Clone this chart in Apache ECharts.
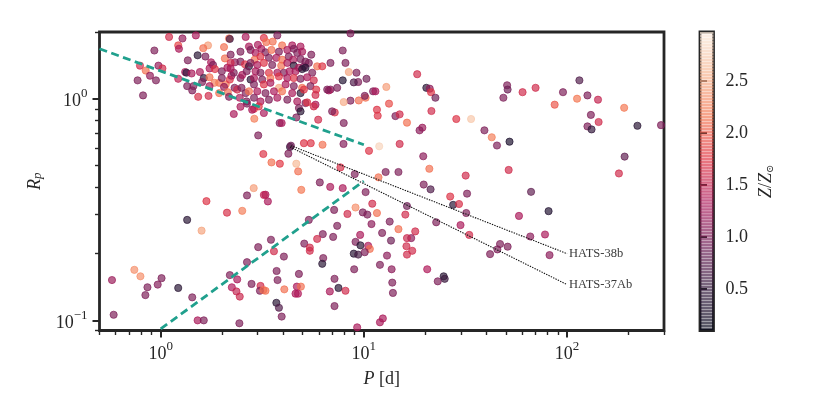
<!DOCTYPE html>
<html>
<head>
<meta charset="utf-8">
<script src="https://cdn.jsdelivr.net/npm/echarts@6/dist/echarts.min.js"></script>
<style>
  html, body { margin: 0; padding: 0; background: #fff; }
  #chart { width: 830px; height: 415px; }
</style>
</head>
<body>
<div id="chart"></div>
<script>
// orbital period [d], radius, metallicity Z/Zsun
const period = [
  18.3, 12.9, 20.3, 21.1, 21.4, 22.5, 13.3, 21.5, 14.3, 15.0,
  16.3, 19.4, 18.8, 11.9, 15.0, 19.6, 12.8, 14.8, 21.0, 31.7,
  28.5, 33.7, 39.2, 42.6, 45.2, 52.1, 51.6, 50.7, 51.0, 48.6,
  60.4, 70.0, 115, 95.5, 86.9, 112, 126, 142, 131, 143,
  126, 132, 191, 222, 290, 192, 180, 19.7, 21.3, 26.6,
  32.2, 27.5, 29.4, 31.9, 22.7, 29.9, 33.0, 66.5, 81.1, 58.0,
  65.9, 77.9, 46.8, 51.0, 45.4, 41.8, 82.0, 20.5, 23.1, 24.7,
  25.0, 4.33, 4.375, 4.25, 5.07, 5.48, 6.26, 7.94, 10.6, 3.51,
  3.86, 4.65, 4.75, 7.67, 9.02, 11.8, 6.07, 6.83, 7.87, 4.92,
  10.2, 3.28, 3.37, 11.0, 9.1, 7.14, 8.3, 9.88, 10.4, 11.6,
  16.3, 16.0, 5.36, 7.39, 10.9, 13.4, 14.8, 17.9, 17.1, 16.3,
  12.3, 6.28, 5.89, 5.09, 7.06, 9.59, 9.1, 9.62, 10.5, 10.7,
  13.6, 16.2, 17.3, 16.3, 3.49, 3.61, 5.42, 5.42, 8.92, 9.38,
  10.1, 13.0, 4.04, 6.31, 6.24, 12.0, 8.96, 13.7, 3.72, 4.79,
  3.76, 7.17, 13.8, 4.68, 4.9, 7.5, 4.06, 6.8, 8.12, 4.61,
  4.74, 13.9, 3.71, 3.82, 7.17, 3.94, 12.4, 12.0, 9.27, 3.28,
  3.02, 3.2, 2.87, 2.66, 3.22, 1.68, 2.12, 2.52, 1.35, 1.59,
  3.02, 2.66, 2.19, 2.38, 2.24, 2.36, 2.45, 2.8, 3.1, 3.08,
  3.2, 0.576, 0.742, 0.795, 0.861, 0.841, 0.967, 1.01, 1.22, 1.43,
  0.587, 1.52, 1.63, 2.44, 1.10, 1.28, 1.49, 1.22, 1.23, 1.71,
  1.62, 0.931, 0.791, 0.844, 0.886, 0.975, 1.02, 0.77, 0.948, 0.819,
  1.22, 1.36, 1.32, 1.52, 1.66, 1.35, 1.43, 1.53, 1.72, 1.94,
  2.09, 2.29, 2.89, 2.88, 7.87, 8.43, 9.2, 9.38, 10.3, 7.87,
  8.92, 6.85, 7.39, 6.72, 8.59, 7.96, 9.44, 10.2, 10.1, 11.1,
  11.4, 11.6, 11.7, 8.12, 7.96, 7.19, 5.96, 4.65, 3.85, 3.94,
  8.59, 3.75, 2.62, 2.17, 2.05, 2.19, 2.47, 2.72, 2.07, 2.21,
  2.32, 1.77, 1.81, 1.74, 1.85, 2.0, 2.13, 2.21, 2.47, 2.6,
  2.72, 1.34, 1.42, 1.56, 1.63, 1.60, 1.74, 1.84, 2.0, 2.19,
  2.23, 2.29, 2.47, 2.52, 2.65, 2.77, 1.45, 1.74, 2.05, 2.14,
  2.31, 2.38, 2.50, 2.62, 2.72, 1.94, 2.17, 2.45, 2.65, 3.22,
  3.31, 3.56, 3.96, 4.44, 4.88, 3.01, 3.13, 2.77, 2.93, 3.28,
  3.51, 3.82, 4.2, 4.52, 4.70, 4.97, 5.51, 2.90, 3.10, 3.41,
  3.71, 3.96, 4.27, 4.49, 4.88, 5.16, 2.77, 2.99, 3.22, 3.54,
  3.92, 4.20, 4.52, 4.79, 5.07, 5.36, 5.89, 6.24, 6.85, 2.93,
  3.10, 3.41, 3.75, 4.04, 4.31, 4.61, 4.97, 5.16, 5.57, 2.88,
  3.16, 3.47, 3.82, 4.20, 4.52, 4.88, 5.26, 5.67, 2.88, 3.22,
  3.47, 3.82, 4.12, 4.52, 4.97, 5.46, 5.83, 6.60, 2.99, 3.28,
  3.61, 3.96, 4.44, 4.88, 5.07, 5.78, 2.88, 3.10, 3.41, 3.75,
  4.20, 4.70, 5.16, 5.78, 4.79, 5.26, 5.67, 3.04, 2.82, 3.22,
  4.88, 6.98, 2.66, 2.47, 2.21
];
const radius = [
  1.29, 1.13, 1.12, 1.11, 1.07, 1.01, 0.95, 0.88, 0.835, 0.85,
  0.78, 0.74, 0.72, 0.61, 0.625, 0.55, 0.467, 0.467, 0.483, 0.45,
  0.81, 0.81, 0.72, 0.67, 0.615, 0.64, 0.477, 1.15, 1.10, 1.01,
  1.07, 1.12, 1.21, 1.07, 0.94, 1.0, 1.035, 0.99, 0.845, 0.785,
  0.75, 0.727, 0.91, 0.755, 0.76, 0.548, 0.46, 0.41, 0.39, 0.362,
  0.373, 0.332, 0.335, 0.305, 0.277, 0.269, 0.243, 0.38, 0.311, 0.296,
  0.239, 0.244, 0.221, 0.215, 0.209, 0.199, 0.197, 0.17, 0.15, 0.158,
  0.154, 0.606, 0.614, 0.565, 0.63, 0.63, 0.62, 0.625, 0.582, 0.516,
  0.509, 0.509, 0.47, 0.49, 0.457, 0.442, 0.419, 0.40, 0.395, 0.388,
  0.379, 0.369, 0.344, 0.336, 0.323, 0.315, 0.302, 0.307, 0.30, 0.305,
  0.328, 0.30, 0.284, 0.267, 0.272, 0.279, 0.258, 0.252, 0.235, 0.235,
  0.248, 0.245, 0.233, 0.222, 0.238, 0.243, 0.226, 0.218, 0.217, 0.21,
  0.229, 0.216, 0.206, 0.198, 0.231, 0.205, 0.213, 0.206, 0.20, 0.198,
  0.203, 0.196, 0.194, 0.191, 0.18, 0.178, 0.17, 0.17, 0.167, 0.162,
  0.152, 0.154, 0.148, 0.142, 0.142, 0.14, 0.138, 0.135, 0.136, 0.132,
  0.132, 0.133, 0.12, 0.114, 0.116, 0.104, 0.102, 0.098, 0.093, 0.136,
  0.683, 0.563, 0.395, 0.366, 0.368, 0.345, 0.306, 0.312, 0.284, 0.254,
  0.214, 0.183, 0.16, 0.153, 0.141, 0.135, 0.128, 0.146, 0.143, 0.136,
  0.137, 0.152, 0.169, 0.158, 0.141, 0.13, 0.145, 0.155, 0.14, 0.127,
  0.106, 0.10, 0.10, 0.097, 1.90, 1.87, 1.93, 1.74, 1.68, 1.74,
  1.69, 1.65, 1.41, 1.34, 1.27, 1.41, 1.37, 1.21, 1.21, 1.035,
  1.23, 1.49, 1.32, 1.57, 1.55, 1.14, 1.09, 1.02, 1.03, 1.18,
  1.16, 0.853, 0.812, 0.90, 1.65, 1.32, 1.31, 1.19, 1.23, 1.21,
  1.185, 1.10, 1.12, 1.09, 0.98, 0.966, 0.982, 1.01, 1.03, 1.08,
  1.08, 0.892, 0.838, 1.45, 0.777, 0.867, 0.804, 0.823, 0.777, 0.777,
  1.97, 1.93, 1.90, 1.87, 1.71, 1.86, 1.63, 1.72, 1.52, 1.58,
  1.46, 1.46, 1.42, 1.37, 1.36, 1.33, 1.38, 1.45, 1.47, 1.43,
  1.40, 1.31, 1.30, 1.32, 1.24, 1.19, 1.25, 1.18, 1.24, 1.22,
  1.27, 1.31, 1.24, 1.28, 1.33, 1.22, 1.14, 1.14, 1.13, 1.07,
  1.12, 1.10, 1.12, 1.06, 1.08, 1.06, 1.02, 1.01, 0.972, 1.88,
  1.80, 1.81, 1.74, 1.74, 1.72, 1.75, 1.68, 1.66, 1.61, 1.62,
  1.66, 1.63, 1.66, 1.68, 1.61, 1.63, 1.58, 1.50, 1.55, 1.53,
  1.53, 1.50, 1.55, 1.50, 1.51, 1.47, 1.45, 1.42, 1.45, 1.42,
  1.41, 1.45, 1.41, 1.38, 1.40, 1.45, 1.40, 1.40, 1.45, 1.33,
  1.31, 1.31, 1.31, 1.31, 1.33, 1.33, 1.36, 1.38, 1.31, 1.24,
  1.22, 1.24, 1.26, 1.24, 1.24, 1.23, 1.25, 1.21, 1.16, 1.16,
  1.18, 1.12, 1.16, 1.14, 1.12, 1.14, 1.10, 1.10, 1.08, 1.06,
  1.08, 1.08, 1.06, 1.06, 1.10, 1.04, 1.01, 0.972, 0.99, 1.01,
  0.99, 0.972, 0.956, 0.94, 0.908, 0.962, 0.923, 0.923, 0.892, 0.862,
  0.877, 0.877, 0.95, 0.92, 1.37
];
const metallicity = [
  1.6, 2.4, 0.4, 1.1, 1.7, 0.9, 1.9, 1.6, 1.0, 1.6,
  2.1, 1.2, 1.1, 2.8, 1.6, 1.1, 1.0, 1.0, 2.1, 1.6,
  1.7, 2.7, 1.0, 2.2, 1.0, 0.3, 1.6, 1.0, 0.9, 1.0,
  1.6, 1.6, 0.7, 1.0, 1.95, 2.15, 1.0, 1.5, 1.0, 1.6,
  1.0, 0.5, 2.15, 0.4, 1.0, 0.8, 1.6, 1.0, 0.7, 1.7,
  1.0, 0.4, 1.65, 1.0, 1.0, 1.3, 1.6, 0.8, 0.35, 1.3,
  1.1, 1.3, 1.0, 1.0, 1.0, 1.0, 1.1, 1.35, 1.0, 0.4,
  0.55, 0.5, 0.9, 1.0, 1.7, 1.7, 2.1, 1.05, 1.7, 2.1,
  1.75, 2.6, 2.1, 1.65, 1.0, 2.1, 1.0, 1.3, 1.3, 2.15,
  1.0, 1.3, 1.3, 1.6, 2.3, 1.0, 1.6, 1.0, 1.0, 2.1,
  0.9, 1.6, 1.0, 1.0, 1.1, 1.0, 2.1, 1.6, 1.1, 1.55,
  1.0, 1.0, 1.6, 1.0, 1.0, 1.3, 1.0, 0.4, 1.3, 2.1,
  0.9, 1.6, 1.6, 1.6, 1.0, 1.6, 1.6, 1.6, 0.4, 0.6,
  1.0, 1.1, 1.0, 1.0, 0.4, 1.0, 1.0, 1.1, 1.0, 1.0,
  1.0, 1.0, 1.0, 1.3, 2.1, 0.4, 2.1, 1.3, 1.6, 1.3,
  1.35, 1.0, 0.4, 0.7, 1.0, 1.0, 1.3, 1.3, 1.3, 2.1,
  1.0, 1.7, 2.4, 1.0, 1.45, 1.7, 1.65, 2.2, 0.4, 2.45,
  1.0, 1.0, 1.0, 1.3, 1.35, 1.5, 1.55, 1.0, 1.6, 1.0,
  2.1, 1.2, 2.3, 2.3, 1.0, 1.0, 1.05, 1.0, 0.4, 1.0,
  1.0, 1.3, 1.0, 1.0, 1.6, 1.15, 1.3, 1.85, 1.3, 2.4,
  2.1, 1.0, 1.6, 2.1, 1.15, 1.15, 1.6, 1.0, 1.0, 1.0,
  1.45, 1.0, 1.3, 0.4, 1.0, 1.0, 1.0, 1.65, 1.6, 2.1,
  2.1, 1.3, 2.2, 1.7, 1.0, 2.45, 1.0, 1.0, 0.9, 0.35,
  0.7, 1.0, 1.0, 1.3, 1.0, 2.5, 2.1, 2.1, 1.0, 1.0,
  1.3, 1.7, 1.7, 1.0, 1.0, 1.65, 1.6, 1.0, 1.0, 1.3,
  1.0, 1.0, 1.3, 2.1, 2.1, 0.6, 1.0, 1.3, 2.1, 1.0,
  1.15, 1.3, 1.0, 1.3, 1.7, 1.0, 1.3, 1.6, 1.0, 1.7,
  0.4, 0.45, 1.3, 1.3, 0.45, 1.0, 2.1, 2.2, 1.0, 1.7,
  1.3, 1.0, 1.0, 1.3, 1.0, 0.4, 1.0, 1.3, 1.15, 2.1,
  1.0, 1.6, 1.0, 1.0, 2.1, 2.1, 1.0, 1.3, 1.0, 1.7,
  2.1, 2.1, 2.1, 1.3, 1.3, 1.3, 1.3, 1.0, 1.3, 1.0,
  2.1, 1.0, 1.3, 1.0, 1.0, 1.3, 1.0, 2.1, 1.7, 1.0,
  1.3, 2.1, 1.0, 1.3, 1.0, 1.0, 1.0, 1.3, 1.7, 1.0,
  2.1, 1.3, 0.4, 1.3, 1.0, 1.0, 2.1, 1.7, 1.0, 1.3,
  1.0, 1.7, 1.3, 1.0, 1.3, 1.3, 0.4, 0.45, 1.0, 1.3,
  1.0, 2.1, 1.7, 1.3, 1.7, 1.0, 1.3, 1.6, 1.0, 1.7,
  1.3, 2.45, 1.3, 1.0, 2.1, 1.0, 1.7, 1.0, 1.3, 1.0,
  1.3, 2.1, 1.3, 0.4, 1.7, 1.6, 1.0, 1.3, 1.0, 1.3,
  1.0, 1.3, 1.0, 1.3, 1.0, 1.7, 1.6, 1.7, 1.3, 1.3,
  0.4, 1.0, 1.0, 1.3, 1.3
];

// dashed teal boundaries
const upperEdgeP = [0.5, 10];
const upperEdgeR = [1.68, 0.62];
const lowerEdgeP = [1, 10];
const lowerEdgeR = [0.0915, 0.425];

// annotated planets and where their labels sit
const hatsNames = ['HATS-38b', 'HATS-37Ab'];
const hatsP = [4.375, 4.33];
const hatsR = [0.614, 0.606];
const hatsLabelP = [100, 100];
const hatsLabelR = [0.2, 0.145];

// ticks
const xMajorTicks = [1, 10, 100];
const xMinorTicks = [0.5, 0.6, 0.7, 0.8, 0.9, 2, 3, 4, 5, 6, 7, 8, 9, 20, 30, 40, 50, 60, 70, 80, 90, 200, 300];
const yMajorTicks = [0.1, 1];
const yMinorTicks = [0.09, 0.2, 0.3, 0.4, 0.5, 0.6, 0.7, 0.8, 0.9, 2];
const colorTicks = [0.5, 1.0, 1.5, 2.0, 2.5];
const zMin = 0.10;
const zMax = 2.97;

const serif = '"Liberation Serif", "DejaVu Serif", serif';
const ink = '#262626';
const teal = '#20a08d';
const alpha = 0.68;
const fontSize = 18;

// seaborn "rocket"
const rocketStops = ['#03051a', '#35193e', '#701f57', '#ad1759', '#e13342', '#f37651', '#f6b48f', '#faebdd'];
const rocketRgb = rocketStops.map(h => [1, 3, 5].map(i => parseInt(h.slice(i, i + 2), 16)));
const rocket = t => {
	t = Math.max(0, Math.min(1, t));
	const s = t * (rocketRgb.length - 1);
	const i = Math.min(Math.floor(s), rocketRgb.length - 2);
	const f = s - i;
	const a = rocketRgb[i], b = rocketRgb[i + 1];
	return 'rgb(' + a.map((v, j) => Math.round(v + (b[j] - v) * f)).join(',') + ')';
};
const zNorm = z => (z - zMin) / (zMax - zMin);

const scatterData = period.map((p, i) => {
	const c = rocket(zNorm(metallicity[i]));
	return { value: [p, radius[i], metallicity[i]], itemStyle: { color: c, borderColor: c } };
});

const powRich = {
	b: { fontFamily: serif, fontSize: fontSize, color: ink, padding: [5, 0, 0, 0] },
	s: { fontFamily: serif, fontSize: 13, color: ink, verticalAlign: 'top' }
};
const powLabel = v => '{b|10}{s|' + String(Math.round(Math.log10(v))).replace('-', '\u2212') + '}';

const hiddenLine = { show: false };
const noSplit = { show: false };
const majorTickStyle = { color: ink, width: 2 };
const minorTickStyle = { color: ink, width: 1.4 };
const italic = { fontFamily: serif, fontSize: fontSize, fontStyle: 'italic', color: ink };

const chart = echarts.init(document.getElementById('chart'));

const option = {
	animation: false,
	backgroundColor: '#fff',
	grid: [
		{ left: 99.5, top: 32, width: 564.5, height: 298.5, show: true, borderColor: ink, borderWidth: 2.8, backgroundColor: 'transparent' },
		{ left: 700, top: 32, width: 13.5, height: 298.5, show: true, borderColor: ink, borderWidth: 2.8, backgroundColor: 'transparent' }
	],
	xAxis: [
		{
			type: 'log', gridIndex: 0, min: 0.5, max: 300, position: 'bottom',
			axisLine: hiddenLine, splitLine: noSplit,
			axisTick: { show: true, customValues: xMajorTicks, length: 7, lineStyle: majorTickStyle },
			axisLabel: { customValues: xMajorTicks, formatter: powLabel, rich: powRich, margin: 10 },
			name: '{i|P} [d]', nameLocation: 'middle', nameGap: 40,
			nameTextStyle: { fontFamily: serif, fontSize: fontSize, color: ink, rich: { i: italic } }
		},
		{
			type: 'log', gridIndex: 0, min: 0.5, max: 300, position: 'bottom',
			axisLine: hiddenLine, splitLine: noSplit, axisLabel: { show: false },
			axisTick: { show: true, customValues: xMinorTicks, length: 4.5, lineStyle: minorTickStyle }
		},
		{ type: 'value', gridIndex: 1, min: 0, max: 1, show: false }
	],
	yAxis: [
		{
			type: 'log', gridIndex: 0, min: 0.09, max: 2, position: 'left',
			axisLine: hiddenLine, splitLine: noSplit,
			axisTick: { show: true, customValues: yMajorTicks, length: 7, lineStyle: majorTickStyle },
			axisLabel: { customValues: yMajorTicks, formatter: powLabel, rich: powRich, margin: 12 },
			name: '{i|R}{sub|p}', nameLocation: 'middle', nameGap: 55, nameRotate: 90,
			nameTextStyle: {
				fontFamily: serif, fontSize: fontSize, color: ink,
				rich: {
					i: italic,
					sub: { fontFamily: serif, fontSize: 13, fontStyle: 'italic', color: ink, verticalAlign: 'bottom', padding: [6, 0, 0, 0] }
				}
			}
		},
		{
			type: 'log', gridIndex: 0, min: 0.09, max: 2, position: 'left',
			axisLine: hiddenLine, splitLine: noSplit, axisLabel: { show: false },
			axisTick: { show: true, customValues: yMinorTicks, length: 4.5, lineStyle: minorTickStyle }
		},
		{
			type: 'value', gridIndex: 1, min: zMin, max: zMax, position: 'right',
			axisLine: hiddenLine, splitLine: noSplit,
			axisTick: { show: true, customValues: colorTicks, length: 7, lineStyle: majorTickStyle },
			axisLabel: { customValues: colorTicks, formatter: v => v.toFixed(1), fontFamily: serif, fontSize: fontSize, color: ink, margin: 12 },
			name: '{i|Z}/{i|Z}{sub|\u2299}', nameLocation: 'middle', nameGap: 44, nameRotate: 90,
			nameTextStyle: {
				fontFamily: serif, fontSize: fontSize, color: ink,
				rich: {
					i: italic,
					sub: { fontFamily: serif, fontSize: 10, color: ink, verticalAlign: 'bottom', padding: [6, 0, 0, 0] }
				}
			}
		}
	],
	series: [
		{
			type: 'scatter', xAxisIndex: 0, yAxisIndex: 0,
			symbol: 'circle', symbolSize: 7.2,
			itemStyle: { borderWidth: 1, opacity: alpha },
			data: scatterData, z: 2
		},
		{
			type: 'line', xAxisIndex: 0, yAxisIndex: 0, symbol: 'none', silent: true,
			data: upperEdgeP.map((p, i) => [p, upperEdgeR[i]]),
			lineStyle: { color: teal, width: 2.8, type: [8, 4.5] }, z: 4
		},
		{
			type: 'line', xAxisIndex: 0, yAxisIndex: 0, symbol: 'none', silent: true,
			data: lowerEdgeP.map((p, i) => [p, lowerEdgeR[i]]),
			lineStyle: { color: teal, width: 2.8, type: [8, 4.5] }, z: 4
		},
		...hatsNames.map((name, i) => ({
			type: 'line', xAxisIndex: 0, yAxisIndex: 0, symbol: 'none', silent: true,
			data: [[hatsP[i], hatsR[i]], [hatsLabelP[i], hatsLabelR[i]]],
			lineStyle: { color: '#111', width: 1.1, type: [1.4, 1.2] },
			endLabel: { show: true, formatter: name, fontFamily: serif, fontSize: 12.5, color: '#3a3a3a', distance: 2 },
			z: 5
		})),
		{
			// colour bar
			type: 'custom', xAxisIndex: 2, yAxisIndex: 2, silent: true,
			data: [[0, zMin]],
			renderItem: (params, api) => {
				const n = 100;
				const children = [];
				for (let k = 0; k < n; k++) {
					const z0 = zMin + (zMax - zMin) * k / n;
					const z1 = zMin + (zMax - zMin) * (k + 1) / n;
					const p0 = api.coord([0, z1]);
					const p1 = api.coord([1, z0]);
					children.push({
						type: 'rect',
						shape: { x: p0[0], y: p0[1], width: p1[0] - p0[0], height: p1[1] - p0[1] - 0.35 },
						style: { fill: rocket((k + 0.5) / n), opacity: alpha }
					});
				}
				return { type: 'group', children };
			}
		}
	]
};

chart.setOption(option);
</script>
</body>
</html>
